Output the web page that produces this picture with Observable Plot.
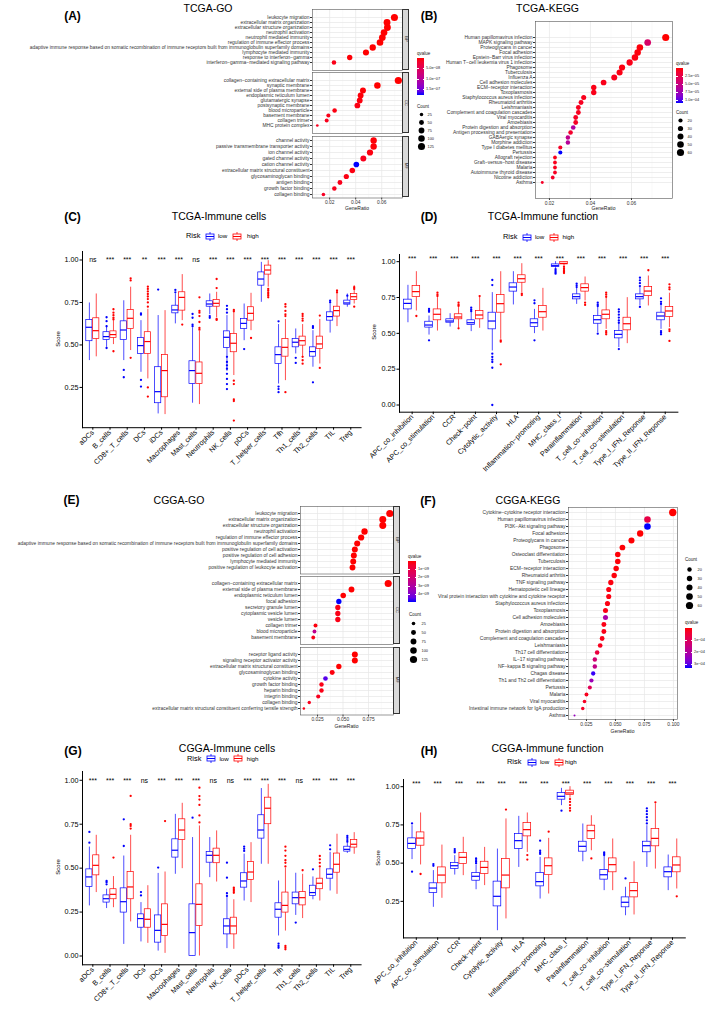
<!DOCTYPE html>
<html><head><meta charset="utf-8">
<script src="https://cdn.jsdelivr.net/npm/d3@7"></script>
<script src="https://cdn.jsdelivr.net/npm/@observablehq/plot@0.6"></script>
<style>
body{margin:0;background:#fff;}
#root{position:relative;width:709px;height:1011px;overflow:hidden;background:#fff;font-family:"Liberation Sans",Arial,Helvetica,sans-serif;}
.t{position:absolute;white-space:nowrap;line-height:1;}
</style></head>
<body><div id="root"></div>
<script>
// ================= DATA =================
// (A) TCGA-GO
const goTcgaBP = ["leukocyte migration","extracellular matrix organization","extracellular structure organization","neutrophil activation","neutrophil mediated immunity","regulation of immune effector process","adaptive immune response based on somatic recombination of immune receptors built from immunoglobulin superfamily domains","lymphocyte mediated immunity","response to interferon−gamma","interferon−gamma−mediated signaling pathway"];
const goTcgaBPRatio = [0.0698,0.0641,0.0644,0.0618,0.0605,0.0587,0.0531,0.0479,0.0354,0.0233];
const goTcgaBPCount = [125,115,115,110,108,105,95,86,63,42];
const goTcgaBPQ = [1e-12,5e-12,5e-12,1e-11,2e-11,3e-11,8e-11,3e-10,2e-9,8e-9];
const goTcgaCC = ["collagen−containing extracellular matrix","synaptic membrane","external side of plasma membrane","endoplasmic reticulum lumen","glutamatergic synapse","postsynaptic membrane","blood microparticle","basement membrane","collagen trimer","MHC protein complex"];
const goTcgaCCRatio = [0.0728,0.0567,0.0456,0.0438,0.0431,0.0413,0.0238,0.0190,0.0177,0.0105];
const goTcgaCCCount = [130,101,82,78,77,74,43,34,32,19];
const goTcgaCCQ = [1e-15,1e-11,2e-9,3e-9,4e-9,6e-9,5e-9,8e-9,1e-8,1.2e-8];
const goTcgaMF = ["channel activity","passive transmembrane transporter activity","ion channel activity","gated channel activity","cation channel activity","extracellular matrix structural constituent","glycosaminoglycan binding","antigen binding","growth factor binding","collagen binding"];
const goTcgaMFRatio = [0.0538,0.0538,0.0510,0.0459,0.0405,0.0374,0.0328,0.0279,0.0236,0.0152];
const goTcgaMFCount = [96,96,91,82,72,67,59,50,42,27];
const goTcgaMFQ = [2e-9,2e-9,5e-9,1e-8,1.8e-7,5e-9,6e-9,1e-8,1e-8,1.5e-8];
const goTcgaTicks = [0.02,0.04,0.06];
const goTcgaQTicks = [5e-8,1e-7,1.5e-7];
const goTcgaQLabels = ["5.0e−08","1.0e−07","1.5e−07"];
const goTcgaCountKeys = [25,50,75,100,125];

// (B) TCGA-KEGG
const keggTcga = ["Human papillomavirus infection","MAPK signaling pathway","Proteoglycans in cancer","Focal adhesion","Epstein−Barr virus infection","Human T−cell leukemia virus 1 infection","Phagosome","Tuberculosis","Influenza A","Cell adhesion molecules","ECM−receptor interaction","Toxoplasmosis","Staphylococcus aureus infection","Rheumatoid arthritis","Leishmaniasis","Complement and coagulation cascades","Viral myocarditis","Amoebiasis","Protein digestion and absorption","Antigen processing and presentation","GABAergic synapse","Morphine addiction","Type I diabetes mellitus","Pertussis","Allograft rejection","Graft−versus−host disease","Malaria","Autoimmune thyroid disease","Nicotine addiction","Asthma"];
const keggTcgaRatio = [0.0767,0.0679,0.0641,0.0630,0.0617,0.0591,0.0554,0.0542,0.0516,0.0464,0.0416,0.0416,0.0367,0.0354,0.0341,0.0341,0.0328,0.0328,0.0316,0.0303,0.0290,0.0290,0.0253,0.0253,0.0227,0.0227,0.0227,0.0227,0.0216,0.0165];
const keggTcgaCount = [59,52,49,48,47,45,43,42,40,36,32,32,28,27,26,26,25,25,24,23,22,22,19,19,17,17,17,17,17,13];
const keggTcgaQ = [1e-8,3.8e-5,2e-6,2e-6,3e-6,5e-6,3e-6,4e-6,6e-6,5e-6,4e-6,5e-6,6e-6,8e-6,7e-6,7e-6,9e-6,9e-6,6.5e-5,1.2e-5,5.5e-5,6.2e-5,1e-5,1.08e-4,5e-6,6e-6,6e-6,8e-6,1e-5,1e-5];
const keggTcgaTicks = [0.02,0.04,0.06];
const keggTcgaQTicks = [2.5e-5,5e-5,7.5e-5,1e-4];
const keggTcgaQLabels = ["2.5e−05","5.0e−05","7.5e−05","1.0e−04"];
const keggTcgaCountKeys = [20,30,40,50,60];

// (C) TCGA-Immune cells  [lower whisker, Q1, median, Q3, upper whisker]
const cellCats = ["aDCs","B_cells","CD8+_T_cells","DCs","iDCs","Macrophages","Mast_cells","Neutrophils","NK_cells","pDCs","T_helper_cells","Tfh","Th1_cells","Th2_cells","TIL","Treg"];
const tcgaCellLow = [[0.408,0.522,0.604,0.647,0.747],[0.486,0.529,0.549,0.575,0.614],[0.408,0.529,0.588,0.639,0.76],[0.339,0.447,0.496,0.541,0.643],[0.094,0.157,0.225,0.369,0.673],[0.624,0.686,0.706,0.731,0.80],[0.157,0.27,0.349,0.404,0.6],[0.678,0.725,0.741,0.757,0.8],[0.345,0.482,0.545,0.58,0.673],[0.525,0.594,0.627,0.653,0.741],[0.751,0.849,0.888,0.927,0.986],[0.27,0.388,0.443,0.486,0.62],[0.447,0.486,0.516,0.535,0.594],[0.369,0.431,0.461,0.486,0.584],[0.57,0.643,0.667,0.692,0.74],[0.722,0.737,0.747,0.761,0.80]];
const tcgaCellHigh = [[0.43,0.535,0.584,0.657,0.80],[0.502,0.541,0.561,0.58,0.643],[0.467,0.593,0.657,0.706,0.84],[0.3,0.447,0.52,0.575,0.71],[0.09,0.192,0.349,0.441,0.702],[0.643,0.702,0.78,0.81,0.914],[0.149,0.27,0.333,0.397,0.58],[0.66,0.725,0.745,0.765,0.81],[0.32,0.457,0.51,0.565,0.70],[0.584,0.643,0.686,0.722,0.804],[0.84,0.914,0.941,0.967,0.996],[0.29,0.431,0.486,0.535,0.65],[0.43,0.496,0.525,0.549,0.62],[0.388,0.476,0.506,0.549,0.65],[0.608,0.667,0.702,0.725,0.824],[0.741,0.765,0.784,0.80,0.849]];
const tcgaCellLowOut = [[],[0.663,0.64,0.61,0.482],[0.353,0.31],[0.686,0.678,0.294,0.255],[0.826],[0.824,0.81],[0.682,0.66,0.62,0.61],[0.67,0.66],[0.73,0.71,0.69,0.43,0.4,0.38,0.36,0.33,0.3,0.27,0.24],[0.476],[],[0.639,0.255,0.24,0.222],[0.424,0.394],[0.61,0.6,0.28],[0.76,0.75],[0.79]];
const tcgaCellHighOut = [[],[0.71,0.69,0.675,0.66,0.65,0.463],[0.892,0.88,0.424],[0.843,0.83,0.815,0.80,0.785,0.77,0.75,0.725,0.25,0.196],[],[0.62],[0.78,0.70,0.69,0.67,0.635,0.6,0.59],[0.888,0.835,0.653,0.647],[0.706,0.698,0.29,0.27,0.18,0.17,0.055],[0.541],[0.83,0.82,0.81,0.80,0.79,0.78],[0.74,0.725,0.70,0.68,0.67,0.222],[0.682,0.67,0.655,0.643,0.43,0.41,0.39],[0.673,0.365],[0.82,0.81],[0.84,0.83,0.725]];
const tcgaCellSig = ["ns","***","***","**","***","***","ns","***","***","***","***","***","***","***","***","***"];

// (D) TCGA-Immune function
const funcCats = ["APC_co_inhibition","APC_co_stimulation","CCR","Check−point","Cytolytic_activity","HLA","Inflammation−promoting","MHC_class_I","Parainflammation","T_cell_co−inhibition","T_cell_co−stimulation","Type_I_IFN_Reponse","Type_II_IFN_Reponse"];
const tcgaFuncLow = [[0.574,0.667,0.709,0.735,0.835],[0.488,0.54,0.558,0.581,0.621],[0.544,0.574,0.586,0.598,0.637],[0.512,0.558,0.574,0.591,0.645],[0.377,0.528,0.586,0.644,0.784],[0.698,0.791,0.823,0.849,0.93],[0.498,0.544,0.574,0.598,0.667],[0.953,0.963,0.972,0.981,1.0],[0.702,0.737,0.756,0.772,0.82],[0.505,0.567,0.595,0.621,0.69],[0.40,0.465,0.493,0.516,0.57],[0.691,0.737,0.756,0.772,0.819],[0.528,0.591,0.621,0.644,0.70]];
const tcgaFuncHigh = [[0.656,0.753,0.791,0.83,0.93],[0.516,0.591,0.633,0.667,0.749],[0.535,0.598,0.614,0.633,0.68],[0.535,0.598,0.628,0.656,0.75],[0.458,0.644,0.707,0.767,0.93],[0.784,0.853,0.881,0.905,0.986],[0.516,0.609,0.651,0.691,0.814],[0.963,0.981,0.988,0.998,1.0],[0.726,0.791,0.819,0.842,0.893],[0.528,0.598,0.633,0.66,0.75],[0.428,0.521,0.567,0.609,0.749],[0.691,0.76,0.795,0.823,0.90],[0.54,0.614,0.656,0.684,0.78]];
const tcgaFuncLowOut = [[],[0.67,0.66,0.65,0.451],[],[0.679,0.665,0.655],[0.872,0.837,0.358,0.335,0.316,0.30,0.26,0.0],[],[0.73,0.71,0.451],[0.947,0.935,0.925,0.916],[0.847,0.835,0.823],[0.714,0.70,0.69,0.498],[0.667,0.65,0.63,0.61,0.59,0.574,0.39],[0.888,0.87,0.85,0.83,0.684],[0.744,0.72,0.705,0.516,0.505,0.493]];
const tcgaFuncHighOut = [[0.621],[0.784,0.77,0.76],[0.714,0.70,0.691,0.535],[0.76],[0.451,0.442,0.284],[0.777,0.767],[],[0.963,0.95,0.94,0.93,0.921],[0.714,0.698],[0.784,0.77,0.755,0.516,0.505,0.493],[],[0.94],[0.842,0.82,0.807,0.528,0.516,0.447]];
const tcgaFuncSig = ["***","***","***","***","***","***","***","***","***","***","***","***","***"];

// (E) CGGA-GO
const goCggaBP = ["leukocyte migration","extracellular matrix organization","extracellular structure organization","neutrophil activation","regulation of immune effector process","adaptive immune response based on somatic recombination of immune receptors built from immunoglobulin superfamily domains","positive regulation of cell activation","positive regulation of cell adhesion","lymphocyte mediated immunity","positive regulation of leukocyte activation"];
const goCggaBPRatio = [0.0959,0.0890,0.0890,0.0711,0.0678,0.0639,0.0616,0.0606,0.0600,0.0593];
const goCggaBPCount = [125,116,116,93,88,83,80,79,78,77];
const goCggaBPQ = [1e-20,1e-18,1e-18,1e-15,1e-14,1e-13,1e-12,1e-12,1e-12,1e-12];
const goCggaCC = ["collagen−containing extracellular matrix","external side of plasma membrane","endoplasmic reticulum lumen","focal adhesion","secretory granule lumen","cytoplasmic vesicle lumen","vesicle lumen","collagen trimer","blood microparticle","basement membrane"];
const goCggaCCRatio = [0.0943,0.0583,0.0502,0.0459,0.0449,0.0449,0.0449,0.0230,0.0220,0.0208];
const goCggaCCCount = [123,76,65,60,58,58,58,30,29,27];
const goCggaCCQ = [1e-20,1e-12,1e-11,5e-9,2e-10,2e-10,2e-10,1e-10,2.6e-9,2e-10];
const goCggaMF = ["receptor ligand activity","signaling receptor activator activity","extracellular matrix structural constituent","glycosaminoglycan binding","cytokine activity","growth factor binding","heparin binding","integrin binding","collagen binding","extracellular matrix structural constituent conferring tensile strength"];
const goCggaMFRatio = [0.0616,0.0616,0.0459,0.0394,0.0328,0.0289,0.0289,0.0257,0.0169,0.0116];
const goCggaMFCount = [80,80,60,51,43,38,38,33,22,15];
const goCggaMFQ = [1e-12,1e-12,1e-11,1e-10,4.6e-9,2e-10,2e-10,3e-10,3e-10,2e-10];
const goCggaTicks = [0.025,0.05,0.075];
const goCggaQTicks = [1e-9,2e-9,3e-9,4e-9];
const goCggaQLabels = ["1e−09","2e−09","3e−09","4e−09"];
const goCggaCountKeys = [25,50,75,100,125];

// (F) CGGA-KEGG
const keggCgga = ["Cytokine−cytokine receptor interaction","Human papillomavirus infection","PI3K−Akt signaling pathway","Focal adhesion","Proteoglycans in cancer","Phagosome","Osteoclast differentiation","Tuberculosis","ECM−receptor interaction","Rheumatoid arthritis","TNF signaling pathway","Hematopoietic cell lineage","Viral protein interaction with cytokine and cytokine receptor","Staphylococcus aureus infection","Toxoplasmosis","Cell adhesion molecules","Amoebiasis","Protein digestion and absorption","Complement and coagulation cascades","Leishmaniasis","Th17 cell differentiation","IL−17 signaling pathway","NF−kappa B signaling pathway","Chagas disease","Th1 and Th2 cell differentiation","Pertussis","Malaria","Viral myocarditis","Intestinal immune network for IgA production","Asthma"];
const keggCggaRatio = [0.0994,0.0776,0.0776,0.0713,0.0638,0.0560,0.0520,0.0520,0.0506,0.0489,0.0460,0.0442,0.0442,0.0431,0.0414,0.0414,0.0400,0.0400,0.0385,0.0368,0.0342,0.0322,0.0322,0.0308,0.0293,0.0279,0.0250,0.0233,0.0218,0.0147];
const keggCggaCount = [62,48,48,44,40,35,32,32,31,30,29,27,27,27,26,26,25,25,24,23,21,20,20,19,18,17,16,14,13,9];
const keggCggaQ = [1e-8,7e-5,3.3e-4,1e-6,2e-6,3e-6,4e-6,4e-6,5e-6,5e-6,8e-6,1e-5,1e-5,1e-5,1.2e-5,2.1e-4,1.2e-5,1.5e-5,1.5e-5,2e-5,6e-5,1.3e-4,1.6e-4,3.2e-4,2.3e-4,9e-5,2e-5,2.5e-5,3e-5,2.4e-4];
const keggCggaTicks = [0.025,0.05,0.075,0.1];
const keggCggaQTicks = [1e-4,2e-4,3e-4];
const keggCggaQLabels = ["1e−04","2e−04","3e−04"];
const keggCggaCountKeys = [20,30,40,50,60];

// (G) CGGA-Immune cells
const cggaCellLow = [[0.285,0.393,0.45,0.493,0.62],[0.27,0.304,0.326,0.345,0.38],[0.066,0.247,0.309,0.385,0.569],[0.08,0.161,0.213,0.237,0.304],[0.028,0.076,0.146,0.231,0.47],[0.465,0.56,0.602,0.664,0.806],[0.0,0.0,0.133,0.294,0.674],[0.446,0.531,0.573,0.592,0.674],[0.042,0.123,0.171,0.209,0.34],[0.313,0.389,0.427,0.471,0.58],[0.522,0.668,0.717,0.801,0.953],[0.114,0.218,0.266,0.30,0.427],[0.231,0.294,0.332,0.361,0.471],[0.32,0.342,0.361,0.40,0.45],[0.37,0.44,0.465,0.493,0.59],[0.584,0.594,0.607,0.622,0.64]];
const cggaCellHigh = [[0.361,0.459,0.516,0.573,0.687],[0.275,0.323,0.351,0.38,0.452],[0.194,0.323,0.393,0.478,0.687],[0.072,0.161,0.209,0.266,0.40],[0.015,0.114,0.18,0.294,0.478],[0.497,0.66,0.717,0.778,0.869],[0.0,0.171,0.294,0.408,0.74],[0.421,0.528,0.573,0.611,0.712],[0.038,0.123,0.171,0.218,0.32],[0.304,0.433,0.478,0.535,0.645],[0.522,0.75,0.841,0.901,0.977],[0.142,0.247,0.288,0.361,0.50],[0.213,0.288,0.332,0.364,0.465],[0.313,0.38,0.414,0.44,0.50],[0.351,0.474,0.522,0.583,0.693],[0.579,0.617,0.636,0.66,0.702]];
const cggaCellLowOut = [[0.706,0.645],[0.427,0.42,0.408],[0.778,0.626],[0.364,0.345],[0.503],[],[0.787],[],[0.531,0.446,0.357,0.342],[0.622,0.61,0.598],[],[0.07,0.057,0.047],[0.19],[0.493],[0.63,0.607],[0.683,0.672,0.66,0.65]];
const cggaCellHighOut = [[],[0.56],[0.911,0.75,0.74,0.725],[],[0.768],[],[0.958,0.91,0.89,0.86,0.80,0.76],[],[0.389,0.38,0.37,0.36],[],[],[0.622,0.60,0.57,0.545,0.53,0.51,0.057,0.047,0.038],[0.488],[0.569,0.55,0.53,0.51],[],[]];
const cggaCellSig = ["***","***","***","ns","***","***","***","ns","ns","***","***","***","ns","***","***","***"];

// (H) CGGA-Immune function
const cggaFuncLow = [[0.523,0.592,0.629,0.662,0.745],[0.211,0.305,0.337,0.368,0.451],[0.422,0.462,0.483,0.501,0.549],[0.326,0.385,0.414,0.435,0.488],[0.058,0.217,0.283,0.379,0.592],[0.472,0.592,0.647,0.69,0.806],[0.265,0.348,0.379,0.435,0.538],[0.876,0.915,0.937,0.959,0.989],[0.509,0.575,0.61,0.64,0.756],[0.32,0.392,0.424,0.455,0.549],[0.156,0.211,0.244,0.276,0.342],[0.472,0.571,0.614,0.64,0.745],[0.32,0.407,0.444,0.472,0.553]];
const cggaFuncHigh = [[0.488,0.614,0.664,0.701,0.828],[0.27,0.368,0.422,0.472,0.618],[0.418,0.494,0.538,0.566,0.669],[0.353,0.429,0.472,0.509,0.603],[0.135,0.335,0.422,0.527,0.789],[0.57,0.675,0.719,0.762,0.828],[0.298,0.422,0.483,0.531,0.662],[0.924,0.945,0.959,0.974,1.0],[0.581,0.658,0.712,0.745,0.81],[0.32,0.44,0.49,0.531,0.658],[0.161,0.276,0.32,0.37,0.509],[0.461,0.61,0.662,0.723,0.887],[0.331,0.44,0.488,0.538,0.658]];
const cggaFuncLowOut = [[0.76,0.444],[0.494,0.483],[0.592,0.58,0.57],[0.531,0.52,0.51,0.50],[],[],[0.647,0.581,0.57,0.56],[0.843],[],[0.57,0.56,0.553],[0.40],[0.858,0.84,0.82,0.80,0.78,0.76],[]];
const cggaFuncHighOut = [[0.429],[],[],[],[0.85],[0.553,0.523],[0.706],[0.919,0.90,0.88,0.86,0.843],[0.531],[],[],[0.898],[0.283]];
const cggaFuncSig = ["***","***","***","***","***","***","***","***","***","***","***","***","***"];

// ================= HELPERS =================
const FONT = '"Liberation Sans", Arial, Helvetica, sans-serif';
const root = document.getElementById("root");
const LOW = "#0000FF", HIGH = "#FF0000";

function put(node, left, top) {
  node.style.position = "absolute";
  node.style.left = left + "px";
  node.style.top = top + "px";
  root.appendChild(node);
  return node;
}
function label(s, x, y, size, o = {}) {
  const d = document.createElement("div");
  d.className = "t";
  d.textContent = s;
  d.style.fontSize = size + "px";
  d.style.fontWeight = o.weight || "normal";
  d.style.color = o.color || "#000";
  const a = o.anchor || "middle";
  const tx = a === "middle" ? "-50%" : a === "end" ? "-100%" : "0";
  d.style.transform = `translate(${tx},-50%)` + (o.rotate ? ` rotate(${o.rotate}deg)` : "");
  put(d, x, y);
  return d;
}
function strip(s, x, y, w, h) {
  const d = document.createElement("div");
  d.style.cssText = `width:${w}px;height:${h}px;background:#D9D9D9;border:0.5px solid #333;box-sizing:border-box;`;
  put(d, x, y);
  label(s, x + w / 2, y + h / 2, 4, {rotate: 90, color: "#1A1A1A"});
}
const qInterp = d3.interpolateLab("red", "blue");

function dotPanel(p) {
  const rows = p.terms.map((t, i) => ({term: t, ratio: p.ratio[i], count: p.count[i], q: p.q[i]}));
  const mb = p.axis ? 10 : 0;
  const svg = Plot.plot({
    width: p.labelW + p.w, height: p.h + mb,
    marginLeft: p.labelW, marginRight: 0, marginTop: 0, marginBottom: mb,
    style: {fontFamily: FONT, fontSize: "4.9px", color: "#333", background: "transparent", overflow: "visible"},
    x: {domain: p.xDomain, ticks: p.xTicks, tickFormat: d3.format(p.fmt), tickSize: 2, tickPadding: 1, label: null, axis: p.axis ? "bottom" : null},
    y: {type: "point", domain: p.terms, padding: 0.6, tickSize: 2, tickPadding: 1, label: null},
    r: {type: "sqrt", domain: [0, p.rSpan], range: p.rRange},
    color: {type: "linear", domain: p.qDomain, range: ["red", "blue"], interpolate: d3.interpolateLab},
    marks: [
      Plot.ruleX(p.minor, {stroke: "#F3F3F3", strokeWidth: 0.4}),
      Plot.ruleX(p.xTicks, {stroke: "#E6E6E6", strokeWidth: 0.7}),
      Plot.ruleY(p.terms, {stroke: "#E6E6E6", strokeWidth: 0.7}),
      Plot.dot(rows, {x: "ratio", y: "term", r: d => d.count - p.cMin, fill: "q"}),
      Plot.frame({stroke: "#555", strokeWidth: 0.6})
    ]
  });
  put(svg, p.left - p.labelW, p.top);
}

function qLegend(p) {
  const stops = d3.range(0, 11).map(i => `${qInterp(i / 10)} ${i * 10}%`);
  const d = document.createElement("div");
  d.style.cssText = `width:${p.w}px;height:${p.y1 - p.y0}px;background:linear-gradient(to bottom, ${stops.join(",")});`;
  put(d, p.x, p.y0);
  const s = d3.scaleLinear(p.domain, [p.y0, p.y1]);
  p.ticks.forEach((t, i) => {
    const tk = document.createElement("div");
    tk.style.cssText = `width:1.5px;height:0.5px;background:#fff;`;
    put(tk, p.x, s(t));
    const tk2 = document.createElement("div");
    tk2.style.cssText = `width:1.5px;height:0.5px;background:#fff;`;
    put(tk2, p.x + p.w - 1.5, s(t));
    label(p.labels[i], p.x + p.w + 2, s(t), 3.9, {anchor: "start", color: "#1A1A1A"});
  });
  label("qvalue", p.x, p.titleY, 4.5, {anchor: "start", color: "#1A1A1A"});
}

function countLegend(p) {
  const pad = 5;
  const svg = Plot.plot({
    width: (p.labelX - p.dotX) + 16, height: (p.y1 - p.y0) + 2 * pad,
    marginLeft: 0, marginRight: 0, marginTop: pad, marginBottom: pad,
    style: {fontFamily: FONT, fontSize: "3.9px", color: "#1A1A1A", background: "transparent", overflow: "visible"},
    y: {type: "point", domain: p.values, padding: 0, axis: null},
    r: {type: "sqrt", domain: [0, p.rSpan], range: p.rRange},
    marks: [
      Plot.dot(p.values, {y: d => d, r: d => d - p.cMin, fill: "black", frameAnchor: "left", dx: pad}),
      Plot.text(p.values, {y: d => d, text: d => String(d), frameAnchor: "left", dx: pad + p.labelX - p.dotX, textAnchor: "start"})
    ]
  });
  put(svg, p.dotX - pad, p.y0 - pad);
  label("Count", p.dotX - 4, p.titleY, 4.5, {anchor: "start", color: "#1A1A1A"});
}

function boxPanel(p) {
  const mkRows = arr => p.cats.map((c, i) => ({cat: c, lo: arr[i][0], q1: arr[i][1], med: arr[i][2], q3: arr[i][3], hi: arr[i][4]}));
  const mkOut = arr => arr.flatMap((vs, i) => vs.map(v => ({cat: p.cats[i], v})));
  const step = p.w / (p.cats.length + 0.2);
  const bw = 0.36 * step, off = 0.2 * step;
  const inA = step / 2 - off - bw / 2, inB = step / 2 + off - bw / 2;
  const group = (rows, outs, color, sign) => [
    Plot.ruleX(rows, {x: "cat", y1: "lo", y2: "hi", stroke: color, strokeWidth: 0.7, dx: sign * off}),
    Plot.barY(rows, {x: "cat", y1: "q1", y2: "q3", fill: "white", stroke: color, strokeWidth: 0.7,
      insetLeft: sign < 0 ? inA : inB, insetRight: sign < 0 ? inB : inA}),
    Plot.tickY(rows, {x: "cat", y: "med", stroke: color, strokeWidth: 1.2,
      insetLeft: sign < 0 ? inA : inB, insetRight: sign < 0 ? inB : inA}),
    Plot.dot(outs, {x: "cat", y: "v", r: 1.15, fill: color, stroke: null, dx: sign * off})
  ];
  const ML = 40, MT = 12, MR = 14, MB = 80;
  const svg = Plot.plot({
    width: ML + p.w + MR, height: MT + p.h + MB,
    marginLeft: ML, marginTop: MT, marginRight: MR, marginBottom: MB,
    style: {fontFamily: FONT, fontSize: "7.2px", color: "#000", background: "transparent", overflow: "visible"},
    x: {type: "band", domain: p.cats, paddingInner: 0, paddingOuter: 0.1, round: false, tickRotate: -45, tickSize: 2.5, tickPadding: 1, label: null, line: true},
    y: {domain: p.yDomain, ticks: p.yTicks, tickFormat: d3.format(".2f"), tickSize: 2.5, tickPadding: 1.5, label: null, line: true},
    marks: [
      ...group(mkRows(p.low), mkOut(p.lowOut), LOW, -1),
      ...group(mkRows(p.high), mkOut(p.highOut), HIGH, 1),
      Plot.text(p.cats, {x: d => d, y: () => p.sigY, text: (d, i) => p.sig[i], fontSize: 7, fill: "#000"})
    ]
  });
  put(svg, p.left - ML, p.top - MT);
  label("Score", p.scoreX, p.top + p.h / 2, 6, {rotate: -90});
}

function riskKey(x, y, c) {
  const d = document.createElement("div");
  d.innerHTML = `<svg width="10" height="9" style="display:block;overflow:visible"><line x1="5" y1="0" x2="5" y2="9" stroke="${c}" stroke-width="0.8"/><rect x="1" y="2" width="8" height="5" fill="white" stroke="${c}" stroke-width="0.8"/><line x1="1" y1="4.5" x2="9" y2="4.5" stroke="${c}" stroke-width="1"/></svg>`;
  put(d, x, y - 4.5);
}
function riskLegend(xs, y) {
  label("Risk", xs[0], y, 7.4, {anchor: "start"});
  riskKey(xs[1], y, LOW);
  label("low", xs[2], y, 6.2, {anchor: "start"});
  riskKey(xs[3], y, HIGH);
  label("high", xs[4], y, 6.2, {anchor: "start"});
}

// ================= TITLES =================
const panelLabels = [["(A)",72.5,15.5],["(B)",429,15.5],["(C)",72.5,217],["(D)",429,217],["(E)",71.5,500],["(F)",428,500.5],["(G)",73,750.5],["(H)",429,750.5]];
panelLabels.forEach(([s,x,y]) => label(s, x, y, 12, {weight: "bold"}));
const titles = [["TCGA-GO",208,7.5],["TCGA-KEGG",547.5,7.5],["TCGA-Immune cells",219,216],["TCGA-Immune function",543,216],["CGGA-GO",179,499.5],["CGGA-KEGG",528,500],["CGGA-Immune cells",227,747.5],["CGGA-Immune function",547.5,748]];
titles.forEach(([s,x,y]) => label(s, x, y, 10.5));

// ================= (A) =================
{
  const common = {left: 312, w: 90, labelW: 312, xDomain: [0.0068, 0.0760], xTicks: goTcgaTicks, minor: [0.01,0.03,0.05,0.07], fmt: ".2f",
    rSpan: 112, rRange: [1.1, 3.6], cMin: 18, qDomain: [0, 1.8e-7]};
  dotPanel({...common, terms: goTcgaBP, ratio: goTcgaBPRatio, count: goTcgaBPCount, q: goTcgaBPQ, top: 8.5, h: 61, axis: false});
  dotPanel({...common, terms: goTcgaCC, ratio: goTcgaCCRatio, count: goTcgaCCCount, q: goTcgaCCQ, top: 72, h: 61, axis: false});
  dotPanel({...common, terms: goTcgaMF, ratio: goTcgaMFRatio, count: goTcgaMFCount, q: goTcgaMFQ, top: 135.5, h: 61.5, axis: true});
  strip("BP", 402, 8.5, 7, 61); strip("CC", 402, 72, 7, 61); strip("MF", 402, 135.5, 7, 61.5);
  label("GeneRatio", 357, 207.5, 5, {color: "#1A1A1A"});
  qLegend({x: 417, y0: 58, y1: 95, w: 7, domain: [0, 1.8e-7], ticks: goTcgaQTicks, labels: goTcgaQLabels, titleY: 53.5});
  countLegend({values: goTcgaCountKeys, y0: 113, y1: 147, dotX: 421, labelX: 427, cMin: 18, rSpan: 112, rRange: [1.1, 3.6], titleY: 107});
}
// ================= (B) =================
{
  dotPanel({terms: keggTcga, ratio: keggTcgaRatio, count: keggTcgaCount, q: keggTcgaQ, left: 535, w: 137, labelW: 180, top: 20.5, h: 177, axis: true,
    xDomain: [0.0132, 0.080], xTicks: keggTcgaTicks, minor: [0.03,0.05,0.07], fmt: ".2f", rSpan: 49, rRange: [1.1, 3.6], cMin: 12, qDomain: [0, 1.08e-4]});
  label("GeneRatio", 603.5, 207.5, 5, {color: "#1A1A1A"});
  qLegend({x: 676, y0: 68, y1: 103, w: 7, domain: [0, 1.08e-4], ticks: keggTcgaQTicks, labels: keggTcgaQLabels, titleY: 64});
  countLegend({values: keggTcgaCountKeys, y0: 120, y1: 152, dotX: 680, labelX: 687, cMin: 12, rSpan: 49, rRange: [1.1, 3.6], titleY: 113});
}
// ================= (C) =================
boxPanel({cats: cellCats, low: tcgaCellLow, high: tcgaCellHigh, lowOut: tcgaCellLowOut, highOut: tcgaCellHighOut, sig: tcgaCellSig, sigY: 1.0,
  left: 82, w: 278.6, top: 250.8, h: 176.2, yDomain: [0.013, 1.05], yTicks: [0.25,0.5,0.75,1.0], scoreX: 57.5});
riskLegend([186, 204.5, 218, 232, 247], 236);
// ================= (D) =================
boxPanel({cats: funcCats, low: tcgaFuncLow, high: tcgaFuncHigh, lowOut: tcgaFuncLowOut, highOut: tcgaFuncHighOut, sig: tcgaFuncSig, sigY: 1.02,
  left: 399.3, w: 278.4, top: 253.5, h: 157.7, yDomain: [-0.05, 1.05], yTicks: [0,0.25,0.5,0.75,1.0], scoreX: 374});
riskLegend([503, 521.5, 535, 549, 562.5], 237);
// ================= (E) =================
{
  const common = {left: 300, w: 93, labelW: 300, xDomain: [0.0083, 0.0995], xTicks: goCggaTicks, minor: [0.0125,0.0375,0.0625,0.0875], fmt: ".3f",
    rSpan: 112, rRange: [1.0, 3.6], cMin: 14, qDomain: [0, 5e-9]};
  dotPanel({...common, terms: goCggaBP, ratio: goCggaBPRatio, count: goCggaBPCount, q: goCggaBPQ, top: 506, h: 67.5, axis: false});
  dotPanel({...common, terms: goCggaCC, ratio: goCggaCCRatio, count: goCggaCCCount, q: goCggaCCQ, top: 576, h: 68, axis: false});
  dotPanel({...common, terms: goCggaMF, ratio: goCggaMFRatio, count: goCggaMFCount, q: goCggaMFQ, top: 646.5, h: 67.5, axis: true});
  strip("BP", 393, 506, 7, 67.5); strip("CC", 393, 576, 7, 68); strip("MF", 393, 646.5, 7, 67.5);
  label("GeneRatio", 346.5, 725.5, 5, {color: "#1A1A1A"});
  qLegend({x: 408, y0: 561, y1: 602, w: 8, domain: [0, 5e-9], ticks: goCggaQTicks, labels: goCggaQLabels, titleY: 557});
  countLegend({values: goCggaCountKeys, y0: 623, y1: 659, dotX: 413, labelX: 421, cMin: 14, rSpan: 112, rRange: [1.0, 3.6], titleY: 615});
}
// ================= (F) =================
{
  dotPanel({terms: keggCgga, ratio: keggCggaRatio, count: keggCggaCount, q: keggCggaQ, left: 568, w: 109, labelW: 168, top: 507, h: 212, axis: true,
    xDomain: [0.0095, 0.1035], xTicks: keggCggaTicks, minor: [0.0125,0.0375,0.0625,0.0875], fmt: ".3f", rSpan: 54, rRange: [1.0, 3.7], cMin: 9, qDomain: [0, 3.3e-4]});
  label("GeneRatio", 622.5, 730.5, 5, {color: "#1A1A1A"});
  countLegend({values: keggCggaCountKeys, y0: 568, y1: 605, dotX: 689, labelX: 697, cMin: 9, rSpan: 54, rRange: [1.0, 3.7], titleY: 560});
  qLegend({x: 685, y0: 628, y1: 668, w: 7, domain: [0, 3.3e-4], ticks: keggCggaQTicks, labels: keggCggaQLabels, titleY: 623});
}
// ================= (G) =================
boxPanel({cats: cellCats, low: cggaCellLow, high: cggaCellHigh, lowOut: cggaCellLowOut, highOut: cggaCellHighOut, sig: cggaCellSig, sigY: 0.995,
  left: 82, w: 278.6, top: 770.5, h: 193.3, yDomain: [-0.05, 1.05], yTicks: [0,0.25,0.5,0.75,1.0], scoreX: 58});
riskLegend([187, 206, 219.5, 233, 246.7], 758.5);
// ================= (H) =================
boxPanel({cats: funcCats, low: cggaFuncLow, high: cggaFuncHigh, lowOut: cggaFuncLowOut, highOut: cggaFuncHighOut, sig: cggaFuncSig, sigY: 1.02,
  left: 402.7, w: 281.8, top: 778.8, h: 158.4, yDomain: [0.011, 1.047], yTicks: [0.25,0.5,0.75,1.0], scoreX: 378});
riskLegend([507, 527, 540, 553.5, 565], 762);
</script>
</body></html>
